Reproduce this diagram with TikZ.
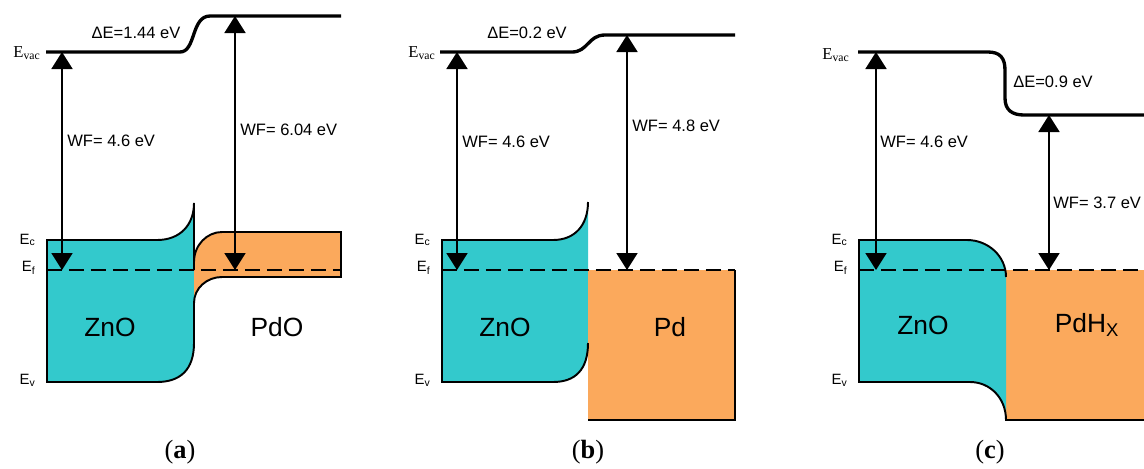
\documentclass[tikz,border=0pt]{standalone}
\usepackage{fontspec}
\setmainfont{Liberation Serif}
\setsansfont{Liberation Sans}
\usetikzlibrary{arrows.meta}
\definecolor{zno}{HTML}{33C9CC}
\definecolor{pdc}{HTML}{FBA95C}

\begin{document}
\begin{tikzpicture}[x=0.02cm,y=-0.02cm,
  lvl/.style={line width=1.9pt},
  edge/.style={line width=1.1pt},
  fermi/.style={line width=1.1pt,dash pattern=on 0.3cm off 0.14cm},
  wf/.style={{Triangle[width=4.2mm,length=3.4mm]}-{Triangle[width=4.2mm,length=3.4mm]},line width=1.1pt},
  lab/.style={font=\sffamily\fontsize{9.4}{11}\selectfont,inner sep=0pt},
  mat/.style={font=\sffamily\fontsize{15}{18}\selectfont,inner sep=0pt},
  band/.style={font=\sffamily\fontsize{8.5}{10}\selectfont,inner sep=0pt,anchor=east},
  vac/.style={font=\fontsize{9.5}{11}\selectfont,inner sep=0pt,anchor=east},
  panelcap/.style={font=\fontsize{15}{17}\selectfont,inner sep=0pt}]
\useasboundingbox (0,0) rectangle (1144,468);
% (a) ZnO / PdO
\fill[zno] (194,203) .. controls (194,225) and (180,240) .. (157,240) -- (47,240) -- (47,382) -- (157,382) .. controls (180,382) and (194,370) .. (194,343) -- cycle;
\fill[pdc] (194,262) .. controls (194,245) and (207,232) .. (222,232) -- (341,232) -- (341,277) -- (222,277) .. controls (207,277) and (194,288) .. (194,303) -- cycle;
\draw[edge] (194,270) -- (194,203) .. controls (194,225) and (180,240) .. (157,240) -- (47,240) -- (47,382) -- (157,382) .. controls (180,382) and (194,370) .. (194,343) -- (194,303);
\draw[edge] (194,262) .. controls (194,245) and (207,232) .. (222,232) -- (341,232) -- (341,277) -- (222,277) .. controls (207,277) and (194,288) .. (194,303);
\draw[lvl] (46,52) -- (180,52) .. controls (196,52) and (191,16) .. (210,16) -- (341,16);
\draw[fermi] (47,270) -- (341,270);
\coordinate (a1t) at (62,52);
\coordinate (a1b) at (62,270);
\coordinate (a2t) at (235,16);
\coordinate (a2b) at (235,270);
\draw[wf] (a1t) -- (a1b);
\draw[wf] (a2t) -- (a2b);
\node[vac] (avac) at (41,53) {E\textsubscript{vac}};
\node[band] (aec) at (36,240) {E\textsubscript{c}};
\node[band] (aef) at (36,268) {E\textsubscript{f}};
\node[band] (aev) at (36,380) {E\textsubscript{v}};
\node[lab] (ade) at (136,33) {ΔE=1.44 eV};
\node[lab,anchor=west] (awf1) at (67,141) {WF= 4.6 eV};
\node[lab,anchor=west] (awf2) at (240,130) {WF= 6.04 eV};
\node[mat] (azno) at (110,327) {ZnO};
\node[mat] (apdo) at (277,327) {PdO};
\node[panelcap] (acap) at (180,452) {(\textbf{a})};
% (b) ZnO / Pd
\fill[zno] (588,202) .. controls (588,225) and (575,240) .. (553,240) -- (442,240) -- (442,382) -- (553,382) .. controls (575,382) and (588,370) .. (588,343) -- cycle;
\fill[pdc] (588,270) rectangle (735,420);
\draw[edge] (588,202) .. controls (588,225) and (575,240) .. (553,240) -- (442,240) -- (442,382) -- (553,382) .. controls (575,382) and (588,370) .. (588,343);
\draw[edge] (588,420) -- (735,420) -- (735,270);
\draw[lvl] (440,52) -- (572,52) .. controls (588,52) and (588,35) .. (605,35) -- (735,35);
\draw[fermi] (442,270) -- (735,270);
\coordinate (b1t) at (457,52);
\coordinate (b1b) at (457,270);
\coordinate (b2t) at (627,35);
\coordinate (b2b) at (627,270);
\draw[wf] (b1t) -- (b1b);
\draw[wf] (b2t) -- (b2b);
\node[vac] (bvac) at (436,53) {E\textsubscript{vac}};
\node[band] (bec) at (431,240) {E\textsubscript{c}};
\node[band] (bef) at (431,268) {E\textsubscript{f}};
\node[band] (bev) at (431,380) {E\textsubscript{v}};
\node[lab] (bde) at (527,33) {ΔE=0.2 eV};
\node[lab,anchor=west] (bwf1) at (462,142) {WF= 4.6 eV};
\node[lab,anchor=west] (bwf2) at (632,126) {WF= 4.8 eV};
\node[mat] (bzno) at (505,327) {ZnO};
\node[mat] (bpd) at (670,327) {Pd};
\node[panelcap] (bcap) at (588,452) {(\textbf{b})};
% (c) ZnO / PdHx
\fill[pdc] (1006,270) rectangle (1144,420);
\fill[zno] (1006,277) .. controls (1006,256) and (988,240) .. (967,240) -- (859,240) -- (859,382) -- (970,382) .. controls (990,382) and (1006,398) .. (1006,420) -- cycle;
\draw[edge] (1006,277) .. controls (1006,256) and (988,240) .. (967,240) -- (859,240) -- (859,382) -- (970,382) .. controls (990,382) and (1006,398) .. (1006,420) -- (1144,420);
\draw[lvl] (858,52) -- (988,52) .. controls (1000,52) and (1005,58) .. (1005,70) -- (1005,98) .. controls (1005,110) and (1012,115) .. (1024,115) -- (1144,115);
\draw[fermi] (859,270) -- (1144,270);
\coordinate (c1t) at (876,52);
\coordinate (c1b) at (876,270);
\coordinate (c2t) at (1049,115);
\coordinate (c2b) at (1049,270);
\draw[wf] (c1t) -- (c1b);
\draw[wf] (c2t) -- (c2b);
\node[vac] (cvac) at (850,55) {E\textsubscript{vac}};
\node[band] (cec) at (848,240) {E\textsubscript{c}};
\node[band] (cef) at (848,268) {E\textsubscript{f}};
\node[band] (cev) at (848,380) {E\textsubscript{v}};
\node[lab] (cde) at (1053,82) {ΔE=0.9 eV};
\node[lab,anchor=west] (cwf1) at (880,142) {WF= 4.6 eV};
\node[lab,anchor=west] (cwf2) at (1053,203) {WF= 3.7 eV};
\node[mat] (czno) at (923,325) {ZnO};
\node[mat] (cpdh) at (1087,325) {PdH\textsubscript{X}};
\node[panelcap] (ccap) at (990,452) {(\textbf{c})};
\end{tikzpicture}
\end{document}
